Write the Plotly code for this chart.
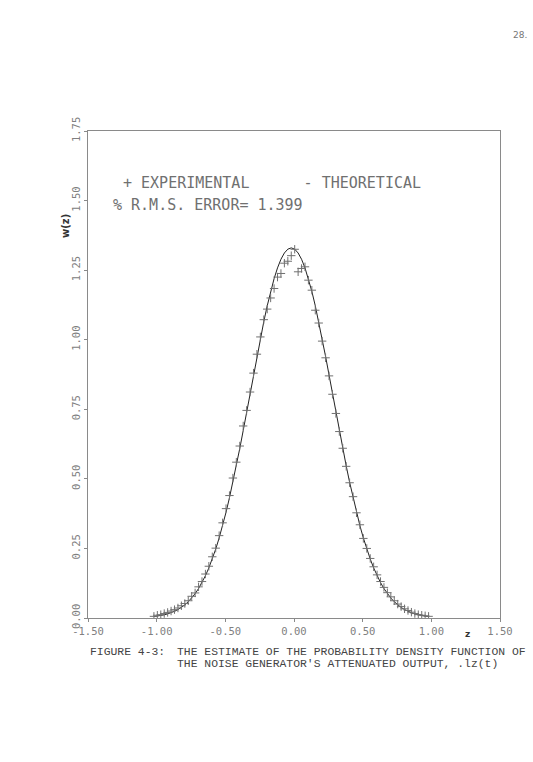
import plotly.graph_objects as go

# ---- data ----
z_vals = [-1.020, -0.995, -0.970, -0.945, -0.920, -0.895, -0.870, -0.845, -0.820, -0.795,
          -0.770, -0.745, -0.720, -0.695, -0.670, -0.645, -0.620, -0.595, -0.570, -0.545,
          -0.520, -0.495, -0.470, -0.445, -0.420, -0.395, -0.370, -0.345, -0.320, -0.295,
          -0.270, -0.245, -0.220, -0.195, -0.170, -0.145, -0.120, -0.095, -0.070, -0.045,
          -0.020, 0.005, 0.030, 0.055, 0.080, 0.105, 0.130, 0.155, 0.180, 0.205,
          0.230, 0.255, 0.280, 0.305, 0.330, 0.355, 0.380, 0.405, 0.430, 0.455,
          0.480, 0.505, 0.530, 0.555, 0.580, 0.605, 0.630, 0.655, 0.680, 0.705,
          0.730, 0.755, 0.780, 0.805, 0.830, 0.855, 0.880, 0.905, 0.930, 0.955, 0.980]

theoretical = [0.0051, 0.0068, 0.0088, 0.0115, 0.0148, 0.0189, 0.0240, 0.0303, 0.0380, 0.0473,
               0.0584, 0.0717, 0.0874, 0.1058, 0.1272, 0.1518, 0.1800, 0.2119, 0.2477, 0.2876,
               0.3316, 0.3797, 0.4318, 0.4876, 0.5468, 0.6089, 0.6734, 0.7396, 0.8067, 0.8738,
               0.9399, 1.0039, 1.0650, 1.1219, 1.1737, 1.2194, 1.2581, 1.2891, 1.3117, 1.3254,
               1.3300, 1.3254, 1.3117, 1.2891, 1.2581, 1.2194, 1.1737, 1.1219, 1.0650, 1.0039,
               0.9399, 0.8738, 0.8067, 0.7396, 0.6734, 0.6089, 0.5468, 0.4876, 0.4318, 0.3797,
               0.3316, 0.2876, 0.2477, 0.2119, 0.1800, 0.1518, 0.1272, 0.1058, 0.0874, 0.0717,
               0.0584, 0.0473, 0.0380, 0.0303, 0.0240, 0.0189, 0.0148, 0.0115, 0.0088, 0.0068, 0.0051]

experimental = [0.006, 0.010, 0.012, 0.016, 0.020, 0.025, 0.030, 0.036, 0.044, 0.052,
                0.062, 0.078, 0.090, 0.112, 0.131, 0.158, 0.186, 0.220, 0.251, 0.296,
                0.342, 0.393, 0.440, 0.503, 0.560, 0.618, 0.690, 0.746, 0.812, 0.880,
                0.948, 1.010, 1.072, 1.110, 1.150, 1.184, 1.225, 1.238, 1.275, 1.282,
                1.302, 1.325, 1.244, 1.256, 1.262, 1.214, 1.178, 1.106, 1.060, 0.995,
                0.935, 0.870, 0.804, 0.735, 0.670, 0.610, 0.545, 0.486, 0.436, 0.378,
                0.335, 0.286, 0.250, 0.214, 0.184, 0.155, 0.131, 0.110, 0.091, 0.076,
                0.062, 0.050, 0.041, 0.033, 0.027, 0.021, 0.016, 0.012, 0.010, 0.008, 0.006]

x_ticks = [-1.5, -1.0, -0.5, 0.0, 0.5, 1.0, 1.5]
x_tick_text = ["-1.50", "-1.00", "-0.50", "0.00", "0.50", "1.00", "1.50"]
y_ticks = [0.0, 0.25, 0.5, 0.75, 1.0, 1.25, 1.5, 1.75]
y_tick_text = ["0.00", "0.25", "0.50", "0.75", "1.00", "1.25", "1.50", "1.75"]

legend_line1 = "+ EXPERIMENTAL      - THEORETICAL"
legend_line2 = "% R.M.S. ERROR= 1.399"
caption1 = "FIGURE 4-3:"
caption2 = "THE ESTIMATE OF THE PROBABILITY DENSITY FUNCTION OF"
caption3 = "THE NOISE GENERATOR'S ATTENUATED OUTPUT, .lz(t)"

# ---- figure ----
W, H = 533, 762
L, R, T, B = 88, 33, 131, 144
PW, PH = W - L - R, H - T - B


def px(xp):
    return (xp - L) / PW


def py(yp):
    return (H - B - yp) / PH


fig = go.Figure()
fig.add_trace(go.Scatter(x=z_vals, y=theoretical, mode="lines",
                         line=dict(color="#222222", width=1), showlegend=False))
fig.add_trace(go.Scatter(x=z_vals, y=experimental, mode="markers",
                         marker=dict(symbol="cross-thin", size=6,
                                     line=dict(color="#707070", width=1)),
                         showlegend=False))

mono = "Liberation Mono"
axis_font = dict(family="DejaVu Sans Mono", size=10.5, color="#808080")

fig.update_layout(
    width=W, height=H,
    margin=dict(l=L, r=R, t=T, b=B),
    paper_bgcolor="white", plot_bgcolor="white",
    xaxis=dict(range=[-1.5, 1.5], tickvals=x_ticks, ticktext=x_tick_text,
               showgrid=False, zeroline=False, showline=True, mirror=True,
               linecolor="#8a8a8a", linewidth=1, ticks="outside", ticklen=3,
               tickcolor="#8a8a8a", tickfont=axis_font),
    yaxis=dict(range=[0, 1.75], tickvals=y_ticks, ticktext=y_tick_text,
               showgrid=False, zeroline=False, showline=True, mirror=True,
               linecolor="#8a8a8a", linewidth=1, ticks="outside", ticklen=3,
               tickcolor="#8a8a8a", tickfont=axis_font, tickangle=-90),
)

legend_font = dict(family="DejaVu Sans Mono", size=15, color="#707070")
ann = []
ann.append(dict(text=legend_line1, x=px(121), y=py(183), xref="paper", yref="paper",
                xanchor="left", yanchor="middle", showarrow=False, font=legend_font))
ann.append(dict(text=legend_line2, x=px(111), y=py(205), xref="paper", yref="paper",
                xanchor="left", yanchor="middle", showarrow=False, font=legend_font))
ann.append(dict(text="<b>w(z)</b>", x=px(66), y=py(226), xref="paper", yref="paper",
                xanchor="center", yanchor="middle", showarrow=False, textangle=-90,
                font=dict(family="DejaVu Sans", size=10, color="#333333")))
ann.append(dict(text="<b>z</b>", x=px(467), y=py(634), xref="paper", yref="paper",
                xanchor="center", yanchor="middle", showarrow=False,
                font=dict(family="DejaVu Sans", size=9, color="#333333")))
cap_font = dict(family=mono, size=11.4, color="#444444")
ann.append(dict(text=caption1, x=px(88), y=py(652), xref="paper", yref="paper",
                xanchor="left", yanchor="middle", showarrow=False, font=cap_font))
ann.append(dict(text=caption2, x=px(175), y=py(652), xref="paper", yref="paper",
                xanchor="left", yanchor="middle", showarrow=False, font=cap_font))
ann.append(dict(text=caption3, x=px(175), y=py(664), xref="paper", yref="paper",
                xanchor="left", yanchor="middle", showarrow=False, font=cap_font))
ann.append(dict(text="28.", x=px(520), y=py(35), xref="paper", yref="paper",
                xanchor="center", yanchor="middle", showarrow=False,
                font=dict(family="DejaVu Sans", size=9, color="#777777")))
fig.update_layout(annotations=ann)

fig.write_html("out.html")
